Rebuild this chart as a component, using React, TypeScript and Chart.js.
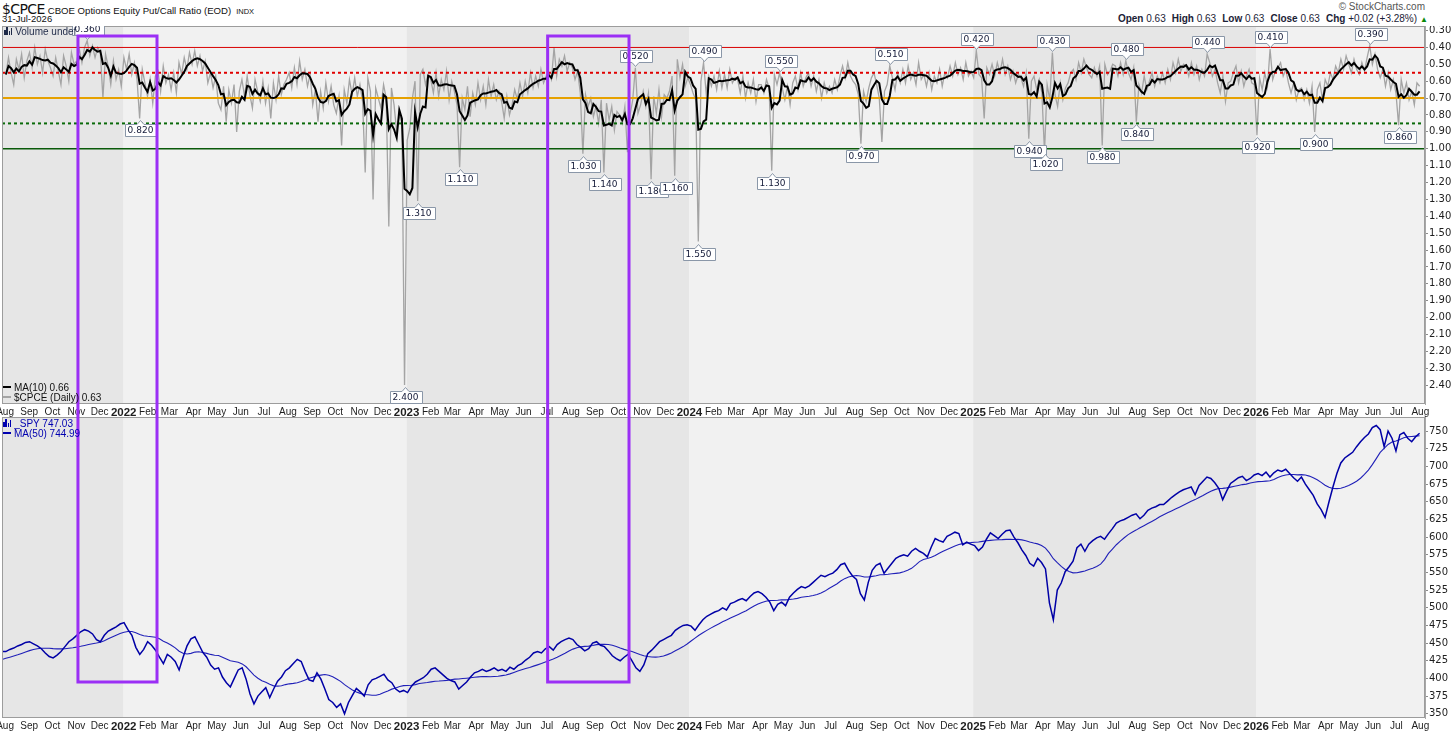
import React, { useEffect, useRef } from 'react';
import { Chart, registerables } from 'chart.js';

Chart.register(...registerables);

// ---------------- categories, ticks, levels ----------------
const MONTH_NAMES = ['Jan', 'Feb', 'Mar', 'Apr', 'May', 'Jun', 'Jul', 'Aug', 'Sep', 'Oct', 'Nov', 'Dec'];
const AXIS_FROM = '2021-07-28';
const AXIS_TO = '2026-08-07';
const FIRST_SESSION = '2021-08-02';
const LAST_SESSION = '2026-07-31';
const BAND_EDGES = ['2022-01-01', '2023-01-01', '2024-01-01', '2025-01-01', '2026-01-01'];
const CPCE_TICKS = [0.3, 0.4, 0.5, 0.6, 0.7, 0.8, 0.9, 1.0, 1.1, 1.2, 1.3, 1.4, 1.5, 1.6, 1.7, 1.8, 1.9, 2.0, 2.1, 2.2, 2.3, 2.4];
const SPY_TICKS = [350, 375, 400, 425, 450, 475, 500, 525, 550, 575, 600, 625, 650, 675, 700, 725, 750];
const CPCE_RANGE = [0.273, 2.512];
const SPY_RANGE = [344, 770];
const CPCE_LEVELS = [0.4, 0.55, 0.7, 0.85, 1.0];
const PURPLE_WINDOWS = [
  ['2021-11-03', '2022-02-13'],
  ['2023-07-02', '2023-10-15'],
];
const PURPLE_CPCE_TOP = 0.332;
const PURPLE_SPY_BOTTOM = 395;

const HEADER_QUOTE = [
  ['Open', '0.63'],
  ['High', '0.63'],
  ['Low', '0.63'],
  ['Close', '0.63'],
  ['Chg', '+0.02 (+3.28%)'],
];
const LEGEND_CPCE = [
  ['MA(10)', '0.66'],
  ['$CPCE (Daily)', '0.63'],
];
const LEGEND_SPY = [
  ['_SPY', '747.03'],
  ['MA(50)', '744.99'],
];

// ---------------- $CPCE values: 9 readings per month ----------------
const CPCE_PER_MONTH = 9;
const cpce2021 = [
  0.56, 0.46, 0.55, 0.62, 0.47, 0.53, 0.44, 0.58, 0.48, // Aug
  0.43, 0.52, 0.40, 0.50, 0.45, 0.55, 0.41, 0.48, 0.52, // Sep
  0.57, 0.46, 0.54, 0.62, 0.45, 0.51, 0.60, 0.43, 0.50, // Oct
  0.48, 0.41, 0.49, 0.40, 0.36, 0.45, 0.39, 0.46, 0.40, // Nov
  0.43, 0.70, 0.44, 0.51, 0.62, 0.48, 0.59, 0.53, 0.63, // Dec
];
const cpce2022 = [
  0.46, 0.53, 0.44, 0.56, 0.49, 0.59, 0.82, 0.53, 0.61, // Jan
  0.69, 0.59, 0.73, 0.57, 0.54, 0.66, 0.51, 0.61, 0.56, // Feb
  0.65, 0.55, 0.67, 0.49, 0.56, 0.46, 0.53, 0.43, 0.50, // Mar
  0.42, 0.51, 0.45, 0.54, 0.48, 0.61, 0.55, 0.64, 0.57, // Apr
  0.73, 0.77, 0.63, 0.84, 0.65, 0.73, 0.62, 0.90, 0.66, // May
  0.59, 0.69, 0.57, 0.68, 0.76, 0.59, 0.66, 0.72, 0.60, // Jun
  0.73, 0.64, 0.82, 0.61, 0.71, 0.57, 0.68, 0.62, 0.59, // Jul
  0.55, 0.64, 0.52, 0.62, 0.48, 0.59, 0.53, 0.63, 0.56, // Aug
  0.74, 0.65, 0.84, 0.66, 0.76, 0.61, 0.72, 0.63, 0.74, // Sep
  0.79, 0.69, 0.98, 0.65, 0.73, 0.59, 0.68, 0.58, 0.69, // Oct
  0.62, 0.72, 1.14, 0.58, 0.66, 1.30, 0.64, 0.70, 0.76, // Nov
  0.62, 0.70, 1.46, 0.64, 0.74, 0.90, 0.80, 0.85, 2.40, // Dec
];
const cpce2023 = [
  0.95, 0.88, 0.70, 0.60, 1.31, 0.56, 0.53, 0.62, 0.56, // Jan
  0.59, 0.67, 0.55, 0.69, 0.59, 0.65, 0.54, 0.71, 0.60, // Feb
  0.66, 0.74, 1.11, 0.70, 0.77, 0.63, 0.81, 0.67, 0.74, // Mar
  0.61, 0.71, 0.63, 0.74, 0.59, 0.69, 0.62, 0.71, 0.66, // Apr
  0.72, 0.82, 0.69, 0.80, 0.74, 0.65, 0.71, 0.61, 0.69, // May
  0.60, 0.67, 0.55, 0.64, 0.57, 0.63, 0.53, 0.61, 0.57, // Jun
  0.55, 0.59, 0.40, 0.57, 0.47, 0.51, 0.45, 0.54, 0.49, // Jul
  0.52, 0.59, 0.54, 0.67, 1.03, 0.68, 0.75, 0.70, 0.81, // Aug
  0.75, 0.85, 0.71, 1.14, 0.73, 0.83, 0.75, 0.89, 0.78, // Sep
  0.80, 0.85, 0.75, 1.02, 0.80, 0.71, 0.52, 0.79, 0.74, // Oct
  0.66, 0.75, 0.67, 1.18, 0.69, 0.79, 0.65, 0.81, 0.68, // Nov
  0.70, 0.66, 0.57, 1.16, 0.47, 0.58, 0.50, 0.63, 0.58, // Dec
];
const cpce2024 = [
  0.62, 0.67, 0.71, 1.55, 0.60, 0.49, 0.67, 0.57, 0.63, // Jan
  0.57, 0.65, 0.54, 0.64, 0.56, 0.64, 0.53, 0.61, 0.58, // Feb
  0.59, 0.67, 0.57, 0.70, 0.61, 0.67, 0.59, 0.72, 0.62, // Mar
  0.62, 0.67, 0.59, 0.64, 1.13, 0.56, 0.62, 0.55, 0.64, // Apr
  0.71, 0.63, 0.74, 0.61, 0.57, 0.65, 0.55, 0.63, 0.58, // May
  0.55, 0.63, 0.57, 0.66, 0.59, 0.70, 0.61, 0.67, 0.63, // Jun
  0.67, 0.59, 0.65, 0.57, 0.51, 0.58, 0.49, 0.57, 0.60, // Jul
  0.62, 0.68, 0.97, 0.66, 0.72, 0.64, 0.58, 0.55, 0.62, // Aug
  0.70, 0.96, 0.66, 0.62, 0.51, 0.58, 0.65, 0.55, 0.61, // Sep
  0.53, 0.61, 0.51, 0.59, 0.55, 0.62, 0.49, 0.59, 0.56, // Oct
  0.63, 0.55, 0.65, 0.57, 0.61, 0.53, 0.63, 0.55, 0.58, // Nov
  0.51, 0.57, 0.49, 0.56, 0.52, 0.59, 0.49, 0.57, 0.54, // Dec
];
const cpce2025 = [
  0.58, 0.42, 0.56, 0.58, 0.82, 0.52, 0.56, 0.50, 0.57, // Jan
  0.49, 0.55, 0.47, 0.56, 0.51, 0.59, 0.54, 0.61, 0.56, // Feb
  0.58, 0.63, 0.55, 0.94, 0.60, 0.57, 0.65, 0.59, 0.67, // Mar
  1.02, 0.62, 0.71, 0.43, 0.68, 0.75, 0.61, 0.71, 0.64, // Apr
  0.61, 0.55, 0.53, 0.59, 0.49, 0.55, 0.47, 0.52, 0.56, // May
  0.58, 0.52, 0.57, 0.51, 0.98, 0.50, 0.56, 0.54, 0.50, // Jun
  0.51, 0.57, 0.49, 0.56, 0.48, 0.55, 0.59, 0.52, 0.84, // Jul
  0.62, 0.67, 0.57, 0.65, 0.60, 0.55, 0.63, 0.57, 0.61, // Aug
  0.55, 0.61, 0.53, 0.59, 0.49, 0.55, 0.47, 0.54, 0.50, // Sep
  0.51, 0.57, 0.49, 0.56, 0.51, 0.59, 0.53, 0.57, 0.44, // Oct
  0.49, 0.57, 0.53, 0.61, 0.67, 0.57, 0.72, 0.61, 0.60, // Nov
  0.55, 0.51, 0.61, 0.54, 0.63, 0.57, 0.53, 0.61, 0.62, // Dec
];
const cpce2026 = [
  0.92, 0.58, 0.65, 0.55, 0.63, 0.41, 0.59, 0.54, 0.52, // Jan
  0.49, 0.57, 0.53, 0.61, 0.67, 0.61, 0.71, 0.65, 0.64, // Feb
  0.71, 0.65, 0.73, 0.63, 0.90, 0.65, 0.61, 0.71, 0.59, // Mar
  0.63, 0.55, 0.59, 0.51, 0.55, 0.47, 0.53, 0.45, 0.50, // Apr
  0.55, 0.47, 0.53, 0.56, 0.49, 0.54, 0.46, 0.39, 0.50, // May
  0.44, 0.53, 0.58, 0.53, 0.63, 0.55, 0.65, 0.59, 0.67, // Jun
  0.86, 0.59, 0.67, 0.61, 0.71, 0.66, 0.74, 0.61, 0.63, // Jul
];
const CPCE_MA_WINDOW = 4; // ~10 sessions

// labelled extremes: [months after Aug-2021, reading in month, side]
const cpceCallouts = [
  [3, 4, 'up'], [5, 6, 'down'], [16, 8, 'down'], [17, 4, 'down'], [19, 2, 'down'],
  [24, 4, 'down'], [25, 3, 'down'], [26, 6, 'up'], [27, 3, 'down'], [28, 3, 'down'],
  [29, 3, 'down'], [29, 5, 'up'], [32, 4, 'down'], [32, 7, 'up'], [36, 2, 'down'],
  [37, 4, 'up'], [41, 1, 'up'], [43, 3, 'down'], [44, 0, 'down'], [44, 3, 'up'],
  [46, 4, 'down'], [47, 4, 'up'], [47, 8, 'down'], [50, 8, 'up'], [53, 0, 'down'],
  [53, 5, 'up'], [55, 4, 'down'], [57, 7, 'up'], [59, 0, 'down'],
];

// ---------------- SPY values: 6 readings per month ----------------
const spyLead = [415, 418, 420, 422, 420, 423, 425, 428, 430, 432, 435, 433, 436, 438];
const spy2021 = [
  438, 441, 443, 446, 448, 451, // Aug
  452, 449, 446, 442, 436, 431, // Sep
  429, 433, 438, 445, 452, 456, // Oct
  461, 466, 469, 467, 463, 455, // Nov
  452, 461, 467, 470, 473, 477, // Dec
];
const spy2022 = [
  479, 469, 461, 444, 434, 441,
  452, 447, 440, 430, 421, 434,
  430, 424, 412, 430, 446, 456,
  459, 448, 437, 430, 419, 413,
  415, 402, 394, 388, 400, 412,
  415, 399, 378, 364, 375, 381,
  387, 373, 385, 396, 402, 411,
  415, 421, 427, 424, 410, 398,
  396, 408, 399, 385, 370, 366,
  359, 364, 350, 366, 376, 386,
  381, 375, 391, 398, 400, 403,
  406, 398, 394, 385, 381, 383,
];
const spy2023 = [
  380, 389, 395, 398, 401, 406,
  413, 415, 410, 405, 400, 397,
  395, 385, 390, 395, 402, 408,
  410, 413, 410, 412, 415, 411,
  413, 410, 416, 413, 418, 421,
  426, 430, 436, 438, 436, 442,
  445, 440, 448, 452, 455, 457,
  455, 448, 444, 439, 442, 450,
  452, 447, 445, 439, 432, 428,
  425, 430, 434, 425, 415, 410,
  419, 435, 440, 446, 452, 455,
  458, 461, 468, 472, 475, 476,
];
const spy2024 = [
  474, 468, 476, 483, 488, 491,
  494, 496, 500, 497, 506, 508,
  511, 513, 510, 516, 521, 523,
  520, 515, 508, 496, 505, 508,
  503, 515, 521, 526, 530, 528,
  531, 536, 541, 546, 544, 547,
  549, 554, 561, 563, 553, 545,
  540, 520, 511, 536, 553, 560,
  563, 549, 556, 563, 570, 573,
  575, 573, 580, 584, 580, 577,
  572, 586, 598, 595, 593, 601,
  604, 607, 605, 589, 593, 590,
];
const spy2025 = [
  588, 581, 586, 597, 606, 602,
  598, 604, 609, 610, 600, 592,
  582, 574, 563, 559, 570, 564,
  555, 507, 483, 525, 535, 551,
  558, 566, 585, 590, 580, 590,
  595, 599, 601, 597, 605, 612,
  620, 623, 625, 628, 631, 633,
  626, 631, 638, 641, 643, 646,
  646, 651, 656, 660, 664, 667,
  669, 671, 660, 673, 679, 685,
  683, 677, 669, 653, 665, 676,
  680, 684, 686, 680, 683, 688,
];
const spy2026 = [
  690, 687, 692, 685, 691, 695,
  693, 696, 690, 684, 679, 685,
  675, 667, 659, 647, 639, 628,
  650, 671, 690, 705, 712, 716,
  720, 728, 735, 741, 746, 755,
  758, 752, 728, 750, 740, 722,
  745, 748, 740, 735, 742, 747.03,
];
const SPY_MA_WINDOW = 14; // ~50 sessions

// ---------------- helpers ----------------
const ORIGIN = Date.UTC(2021, 7, 1);
const dayOf = (iso: string) => {
  const [y, m, d] = iso.split('-').map(Number);
  return (Date.UTC(y, m - 1, d) - ORIGIN) / 86400000;
};
const X_MIN = dayOf(AXIS_FROM);
const X_MAX = dayOf(AXIS_TO);

const monthTicks: { value: number; label: string; year: boolean }[] = [];
for (let k = 0; k <= 60; k++) {
  const y = 2021 + Math.floor((7 + k) / 12);
  const m = (7 + k) % 12;
  monthTicks.push({
    value: (Date.UTC(y, m, 1) - ORIGIN) / 86400000,
    label: m === 0 ? String(y) : MONTH_NAMES[m],
    year: m === 0,
  });
}
const tickLabel = new Map(monthTicks.map((t) => [t.value, t.label]));
const yearTick = new Set(monthTicks.filter((t) => t.year).map((t) => t.value));

const sma = (vals: number[], w: number) =>
  vals.map((_, i) => {
    const s = Math.max(0, i - w + 1);
    let sum = 0;
    for (let j = s; j <= i; j++) sum += vals[j];
    return sum / (i - s + 1);
  });

const spread = (vals: number[], lead = 0) => {
  const first = dayOf(FIRST_SESSION);
  const last = dayOf(LAST_SESSION);
  const n = vals.length - lead;
  const step = (last - first) / (n - 1);
  return vals.map((v, i) => ({ x: first + (i - lead) * step, y: v }));
};

const cpceDaily = [...cpce2021, ...cpce2022, ...cpce2023, ...cpce2024, ...cpce2025, ...cpce2026];
const cpcePoints = spread(cpceDaily);
const cpceMaPoints = spread(sma(cpceDaily, CPCE_MA_WINDOW));

const spyAll = [...spyLead, ...spy2021, ...spy2022, ...spy2023, ...spy2024, ...spy2025, ...spy2026];
const spyPoints = spread(spyAll, spyLead.length);
const spyMaPoints = spread(sma(spyAll, SPY_MA_WINDOW), spyLead.length);

const DARK_BAND = '#e6e6e6';
const LIGHT_BAND = '#f1f1f1';
const PURPLE = '#9b2ff5';
const AXIS_FONT = 'DejaVu Sans';

// ---------------- plugins ----------------
const bandsPlugin = {
  id: 'bands',
  beforeDraw(chart: any) {
    const { ctx, chartArea: a } = chart;
    const x = chart.scales.x;
    const edges = [x.min, ...BAND_EDGES.map(dayOf), x.max];
    ctx.save();
    for (let i = 0; i < edges.length - 1; i++) {
      const x0 = Math.max(a.left, x.getPixelForValue(edges[i]));
      const x1 = Math.min(a.right, x.getPixelForValue(edges[i + 1]));
      ctx.fillStyle = i % 2 === 0 ? DARK_BAND : LIGHT_BAND;
      ctx.fillRect(x0, a.top, x1 - x0, a.bottom - a.top);
    }
    ctx.restore();
  },
  afterDatasetsDraw(chart: any) {
    const { ctx, chartArea: a } = chart;
    ctx.save();
    ctx.strokeStyle = '#9c9c9c';
    ctx.lineWidth = 1;
    ctx.strokeRect(a.left + 0.5, a.top + 0.5, a.right - a.left - 1, a.bottom - a.top - 1);
    ctx.restore();
  },
};

const calloutPlugin = {
  id: 'callouts',
  afterDatasetsDraw(chart: any) {
    const { ctx } = chart;
    const x = chart.scales.x;
    const y = chart.scales.y;
    ctx.save();
    ctx.font = `9px "${AXIS_FONT}"`;
    ctx.textAlign = 'center';
    ctx.textBaseline = 'middle';
    for (const [mo, slot, side] of cpceCallouts as any[]) {
      const p = cpcePoints[mo * CPCE_PER_MONTH + slot];
      const px = Math.round(x.getPixelForValue(p.x)) + 0.5;
      const py = Math.round(y.getPixelForValue(p.y)) + 0.5;
      const text = p.y.toFixed(3);
      const w = Math.round(ctx.measureText(text).width + 6);
      const h = 12;
      const bx = Math.round(px - w / 2) + 0.5;
      ctx.beginPath();
      let by;
      if (side === 'down') {
        by = py + 6;
        ctx.moveTo(bx, by);
        ctx.lineTo(px - 3.5, by);
        ctx.lineTo(px, by - 4);
        ctx.lineTo(px + 3.5, by);
        ctx.lineTo(bx + w, by);
        ctx.lineTo(bx + w, by + h);
        ctx.lineTo(bx, by + h);
      } else {
        by = py - 6 - h;
        ctx.moveTo(bx, by);
        ctx.lineTo(bx + w, by);
        ctx.lineTo(bx + w, by + h);
        ctx.lineTo(px + 3.5, by + h);
        ctx.lineTo(px, by + h + 4);
        ctx.lineTo(px - 3.5, by + h);
        ctx.lineTo(bx, by + h);
      }
      ctx.closePath();
      ctx.fillStyle = '#ffffff';
      ctx.fill();
      ctx.strokeStyle = '#8a97a8';
      ctx.lineWidth = 1;
      ctx.stroke();
      ctx.fillStyle = '#141a38';
      ctx.fillText(text, px, by + h / 2 + 0.5);
    }
    ctx.restore();
  },
};

const purplePlugin = (part: 'top' | 'bottom') => ({
  id: 'purple-' + part,
  afterDraw(chart: any) {
    const { ctx } = chart;
    const x = chart.scales.x;
    const y = chart.scales.y;
    ctx.save();
    ctx.strokeStyle = PURPLE;
    ctx.lineWidth = 3;
    for (const [a, b] of PURPLE_WINDOWS) {
      const x0 = x.getPixelForValue(dayOf(a));
      const x1 = x.getPixelForValue(dayOf(b));
      ctx.beginPath();
      if (part === 'top') {
        const yt = y.getPixelForValue(PURPLE_CPCE_TOP);
        ctx.moveTo(x0, chart.height + 2);
        ctx.lineTo(x0, yt);
        ctx.lineTo(x1, yt);
        ctx.lineTo(x1, chart.height + 2);
      } else {
        const yb = y.getPixelForValue(PURPLE_SPY_BOTTOM);
        ctx.moveTo(x0, -2);
        ctx.lineTo(x0, yb);
        ctx.lineTo(x1, yb);
        ctx.lineTo(x1, -2);
      }
      ctx.stroke();
    }
    ctx.restore();
  },
});

// ---------------- scales ----------------
const xScale = (height: number) => ({
  type: 'linear',
  min: X_MIN,
  max: X_MAX,
  grid: { display: false, drawTicks: false },
  border: { display: false },
  afterBuildTicks: (s: any) => {
    s.ticks = monthTicks.map((t) => ({ value: t.value }));
  },
  afterFit: (s: any) => {
    s.height = height;
    s.paddingLeft = 0;
    s.paddingRight = 0;
  },
  ticks: {
    autoSkip: false,
    maxRotation: 0,
    minRotation: 0,
    padding: 2,
    color: '#1e1e1e',
    callback: (v: number) => tickLabel.get(v) ?? '',
    font: (c: any) => {
      const yr = c.tick && yearTick.has(c.tick.value);
      return { family: 'Liberation Sans', size: yr ? 11.5 : 10, weight: yr ? 'bold' : 'normal' };
    },
  },
});

const yScale = (range: number[], ticks: number[], reverse: boolean, fmt: (v: number) => string) => ({
  type: 'linear',
  position: 'right',
  reverse,
  min: range[0],
  max: range[1],
  afterBuildTicks: (s: any) => {
    s.ticks = ticks.map((v) => ({ value: v }));
  },
  afterFit: (s: any) => {
    s.width = 31;
    s.paddingTop = 0;
    s.paddingBottom = 0;
  },
  grid: { drawOnChartArea: false, drawTicks: true, tickLength: 3, color: '#8c8c8c' },
  border: { display: true, color: '#a8a8a8', dash: [1, 1] },
  ticks: {
    autoSkip: false,
    padding: 1,
    color: '#1e1e1e',
    font: { family: AXIS_FONT, size: 10 },
    callback: (v: number) => fmt(v),
  },
});

const levelStyles = [
  { color: '#d80000', width: 1, dash: [] },
  { color: '#e00000', width: 2, dash: [3, 3] },
  { color: '#e6a100', width: 2, dash: [] },
  { color: '#0a6a0a', width: 2, dash: [3, 3] },
  { color: '#0a5a0a', width: 1.5, dash: [] },
];

const baseOptions = {
  animation: false,
  responsive: false,
  maintainAspectRatio: false,
  events: [],
  layout: { padding: { left: 2, right: 0, top: 0, bottom: 0 } },
  plugins: { legend: { display: false }, tooltip: { enabled: false }, title: { display: false } },
  elements: { point: { radius: 0 }, line: { tension: 0 } },
};

const topConfig = (): any => ({
  type: 'line',
  data: {
    datasets: [
      {
        data: cpceMaPoints,
        borderColor: '#000000',
        borderWidth: 2,
        pointRadius: 0,
        order: 0,
      },
      ...CPCE_LEVELS.map((lvl, i) => ({
        data: [
          { x: X_MIN, y: lvl },
          { x: X_MAX, y: lvl },
        ],
        borderColor: levelStyles[i].color,
        borderWidth: levelStyles[i].width,
        borderDash: levelStyles[i].dash,
        pointRadius: 0,
        order: 1,
      })),
      {
        data: cpcePoints,
        borderColor: '#a4a4a4',
        borderWidth: 1.3,
        pointRadius: 0,
        order: 2,
      },
    ],
  },
  options: {
    ...baseOptions,
    scales: {
      x: xScale(14),
      y: yScale(CPCE_RANGE, CPCE_TICKS, true, (v) => v.toFixed(2)),
    },
  },
  plugins: [bandsPlugin, calloutPlugin, purplePlugin('top')],
});

const bottomConfig = (): any => ({
  type: 'line',
  data: {
    datasets: [
      {
        data: spyPoints,
        borderColor: '#0000a6',
        borderWidth: 1.5,
        pointRadius: 0,
        order: 0,
      },
      {
        data: spyMaPoints,
        borderColor: '#2020b8',
        borderWidth: 1.1,
        pointRadius: 0,
        order: 1,
      },
    ],
  },
  options: {
    ...baseOptions,
    scales: {
      x: xScale(18),
      y: yScale(SPY_RANGE, SPY_TICKS, false, (v) => String(v)),
    },
  },
  plugins: [bandsPlugin, purplePlugin('bottom')],
});

// ---------------- component ----------------
const textFont = '"Liberation Sans", Arial, sans-serif';

function LineIcon({ color, thick }: { color: string; thick: number }) {
  return (
    <span
      style={{
        display: 'inline-block',
        width: 8,
        height: thick,
        background: color,
        verticalAlign: 'middle',
        marginRight: 3,
        marginTop: -2,
      }}
    />
  );
}

function BarsIcon({ color }: { color: string }) {
  const hs = [5, 8, 4, 7];
  return (
    <span style={{ display: 'inline-flex', alignItems: 'flex-end', height: 8, marginRight: 2, verticalAlign: 'middle', marginTop: -3 }}>
      {hs.map((h, i) => (
        <span key={i} style={{ display: 'inline-block', width: 1.5, height: h, background: color, marginRight: 0.8 }} />
      ))}
    </span>
  );
}

export default function App() {
  const topRef = useRef<HTMLCanvasElement | null>(null);
  const botRef = useRef<HTMLCanvasElement | null>(null);

  useEffect(() => {
    const top = new Chart(topRef.current as HTMLCanvasElement, topConfig());
    const bot = new Chart(botRef.current as HTMLCanvasElement, bottomConfig());
    return () => {
      top.destroy();
      bot.destroy();
    };
  }, []);

  return (
    <div
      style={{
        position: 'absolute',
        left: 0,
        top: 0,
        width: 1456,
        height: 736,
        background: '#ffffff',
        overflow: 'hidden',
        fontFamily: textFont,
        color: '#111',
      }}
    >
      <div style={{ position: 'absolute', left: 2, top: 2, whiteSpace: 'nowrap', lineHeight: '14px' }}>
        <span style={{ fontSize: 14, fontFamily: '"DejaVu Sans", sans-serif', letterSpacing: -0.6 }}>$CPCE</span>
        <span style={{ fontSize: 9.6, marginLeft: 3 }}>CBOE Options Equity Put/Call Ratio (EOD)</span>
        <span style={{ fontSize: 7.5, marginLeft: 5 }}>INDX</span>
      </div>
      <div style={{ position: 'absolute', left: 2, top: 14, fontSize: 9.5, lineHeight: '10px' }}>31-Jul-2026</div>
      <div style={{ position: 'absolute', right: 31, top: 2, fontSize: 10, lineHeight: '10px', color: '#555' }}>© StockCharts.com</div>
      <div style={{ position: 'absolute', right: 28, top: 13, fontSize: 10, lineHeight: '11px', whiteSpace: 'nowrap', color: '#1b2236' }}>
        {HEADER_QUOTE.map(([k, v]) => (
          <span key={k} style={{ marginLeft: 6 }}>
            <b>{k}</b> {v}
          </span>
        ))}
        <span style={{ color: '#0a8a0a', fontSize: 8, marginLeft: 3 }}>▲</span>
      </div>

      <canvas
        ref={topRef}
        width={1456}
        height={392}
        style={{ position: 'absolute', left: 0, top: 26, width: 1456, height: 392 }}
      />
      <canvas
        ref={botRef}
        width={1456}
        height={319}
        style={{ position: 'absolute', left: 0, top: 417, width: 1456, height: 319 }}
      />

      <div style={{ position: 'absolute', left: 4, top: 27, fontSize: 10, lineHeight: '10px', color: '#1f2a48' }}>
        <BarsIcon color="#1f2a48" />
        Volume undef
      </div>
      <div style={{ position: 'absolute', left: 3, top: 383, fontSize: 10, lineHeight: '10px', color: '#111' }}>
        <div>
          <LineIcon color="#000" thick={2} />
          {LEGEND_CPCE[0][0]} {LEGEND_CPCE[0][1]}
        </div>
        <div>
          <LineIcon color="#a4a4a4" thick={2} />
          {LEGEND_CPCE[1][0]} {LEGEND_CPCE[1][1]}
        </div>
      </div>
      <div style={{ position: 'absolute', left: 3, top: 419, fontSize: 10, lineHeight: '10px', color: '#0000b0' }}>
        <div>
          <BarsIcon color="#0000b0" />
          {LEGEND_SPY[0][0]} {LEGEND_SPY[0][1]}
        </div>
        <div>
          <LineIcon color="#0000b0" thick={2} />
          {LEGEND_SPY[1][0]} {LEGEND_SPY[1][1]}
        </div>
      </div>
    </div>
  );
}
